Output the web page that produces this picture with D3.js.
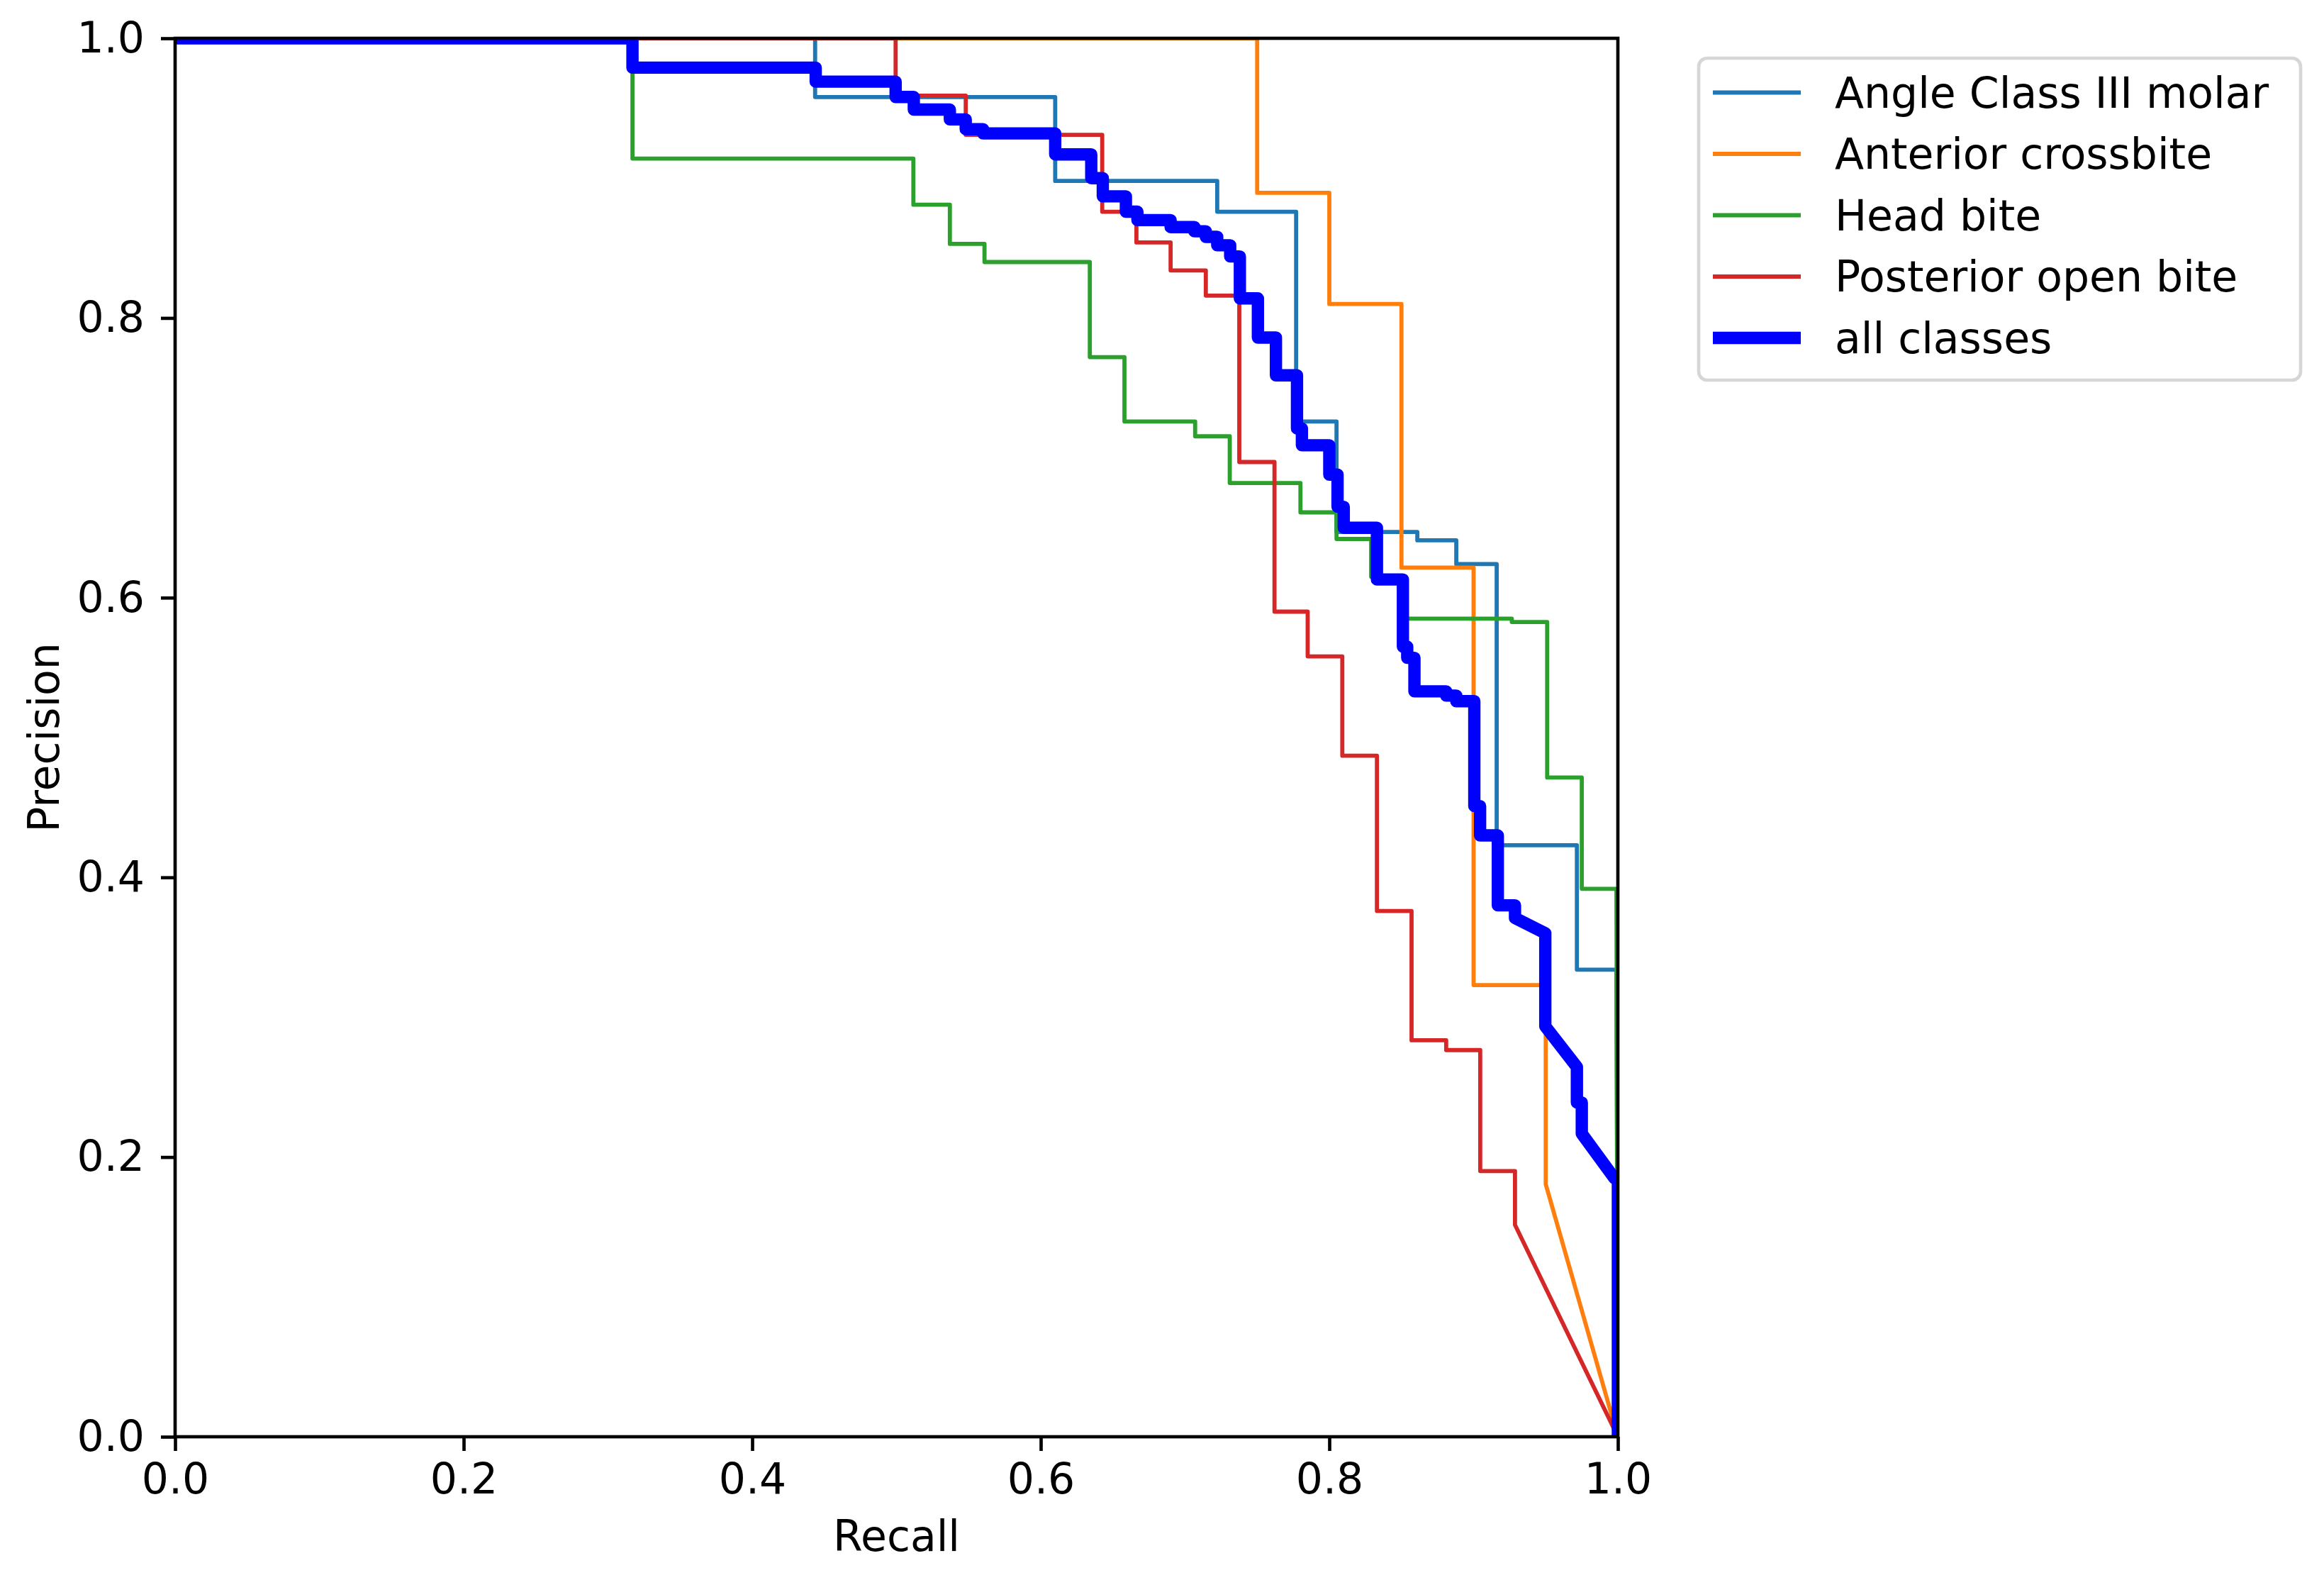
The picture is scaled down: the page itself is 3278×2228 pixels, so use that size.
<!DOCTYPE html>
<html>
<head>
<meta charset="utf-8">
<script src="https://cdn.jsdelivr.net/npm/d3@7/dist/d3.min.js"></script>
<style>
  html, body { margin: 0; padding: 0; background: #ffffff; }
  svg { display: block; }
  text { font-family: "DejaVu Sans", "Liberation Sans", sans-serif; fill: #000; }
</style>
</head>
<body>
<svg id="chart" width="3278" height="2228"></svg>
<script>
// ---- data (recall, precision vertices) ----
const classNames = ["Angle Class III molar", "Anterior crossbite", "Head bite", "Posterior open bite", "all classes"];
const seriesColors = ["#1f77b4", "#ff7f0e", "#2ca02c", "#d62728", "#0000ff"];

const angleClassIII = [[0,1],[0.4436,1],[0.4436,0.958],[0.610,0.958],[0.610,0.898],[0.7223,0.898],[0.7223,0.876],[0.777,0.876],[0.777,0.726],[0.805,0.726],[0.805,0.647],[0.861,0.647],[0.861,0.641],[0.888,0.641],[0.888,0.624],[0.916,0.624],[0.916,0.423],[0.9716,0.423],[0.9716,0.334],[0.999,0.334],[1.0,0]];

const anteriorCrossbite = [[0,1],[0.750,1],[0.750,0.8895],[0.800,0.8895],[0.800,0.810],[0.850,0.810],[0.850,0.6215],[0.900,0.6215],[0.900,0.323],[0.950,0.323],[0.950,0.1806],[1.0,0]];

const headBite = [[0,1],[0.317,1],[0.317,0.914],[0.5117,0.914],[0.5117,0.881],[0.537,0.881],[0.537,0.853],[0.561,0.853],[0.561,0.840],[0.634,0.840],[0.634,0.772],[0.658,0.772],[0.658,0.726],[0.707,0.726],[0.707,0.7154],[0.731,0.7154],[0.731,0.682],[0.780,0.682],[0.780,0.661],[0.805,0.661],[0.805,0.642],[0.829,0.642],[0.829,0.615],[0.853,0.615],[0.853,0.585],[0.9265,0.585],[0.9265,0.5826],[0.951,0.5826],[0.951,0.4714],[0.975,0.4714],[0.975,0.3918],[0.999,0.3918],[1.0,0]];

const posteriorOpenBite = [[0,1],[0.4994,1],[0.4994,0.959],[0.548,0.959],[0.548,0.931],[0.6426,0.931],[0.6426,0.876],[0.6663,0.876],[0.6663,0.854],[0.690,0.854],[0.690,0.834],[0.7144,0.834],[0.7144,0.816],[0.7376,0.816],[0.7376,0.697],[0.762,0.697],[0.762,0.590],[0.785,0.590],[0.785,0.558],[0.809,0.558],[0.809,0.487],[0.833,0.487],[0.833,0.376],[0.857,0.376],[0.857,0.2835],[0.881,0.2835],[0.881,0.2765],[0.9046,0.2765],[0.9046,0.190],[0.9287,0.190],[0.9287,0.1515],[1.0,0.0]];

const allClasses = [[0,1],[0.317,1],[0.317,0.979],[0.444,0.979],[0.444,0.969],[0.4994,0.969],[0.4994,0.958],[0.512,0.958],[0.512,0.949],[0.537,0.949],[0.537,0.942],[0.548,0.942],[0.548,0.935],[0.560,0.935],[0.560,0.932],[0.610,0.932],[0.610,0.917],[0.635,0.917],[0.635,0.900],[0.643,0.900],[0.643,0.887],[0.659,0.887],[0.659,0.876],[0.667,0.876],[0.667,0.870],[0.690,0.870],[0.690,0.865],[0.7065,0.865],[0.7065,0.862],[0.7144,0.862],[0.7144,0.858],[0.7223,0.858],[0.7223,0.852],[0.7313,0.852],[0.7313,0.844],[0.738,0.844],[0.738,0.814],[0.7505,0.814],[0.7505,0.786],[0.763,0.786],[0.763,0.759],[0.7776,0.759],[0.7776,0.721],[0.781,0.721],[0.781,0.709],[0.800,0.709],[0.800,0.688],[0.8057,0.688],[0.8057,0.665],[0.810,0.665],[0.810,0.650],[0.833,0.650],[0.833,0.613],[0.851,0.613],[0.851,0.565],[0.854,0.565],[0.854,0.557],[0.859,0.557],[0.859,0.533],[0.881,0.533],[0.881,0.530],[0.888,0.530],[0.888,0.526],[0.9005,0.526],[0.9005,0.451],[0.9045,0.451],[0.9045,0.430],[0.9168,0.430],[0.9168,0.380],[0.9287,0.380],[0.9287,0.371],[0.9497,0.360],[0.9497,0.2935],[0.9716,0.2644],[0.9716,0.239],[0.975,0.239],[0.975,0.2167],[0.9975,0.185],[1.0,0.183],[1.0,0]];

const xTicks = [0, 0.2, 0.4, 0.6, 0.8, 1.0];
const yTicks = [0, 0.2, 0.4, 0.6, 0.8, 1.0];
const xLabel = "Recall";
const yLabel = "Precision";

// ---- layout ----
const PT = 5.8;
const FS = 60;
const M = { left: 247, top: 54, width: 2035, height: 1972 };

const svg = d3.select("#chart");
const x = d3.scaleLinear().domain([0, 1]).range([M.left, M.left + M.width]);
const y = d3.scaleLinear().domain([0, 1]).range([M.top + M.height, M.top]);

svg.append("defs").append("clipPath").attr("id", "plotclip")
  .append("rect").attr("x", M.left).attr("y", M.top).attr("width", M.width).attr("height", M.height);

const line = d3.line().x(d => x(d[0])).y(d => y(d[1]));
const seriesData = [angleClassIII, anteriorCrossbite, headBite, posteriorOpenBite, allClasses];
const widths = [1, 1, 1, 1, 3];

const gLines = svg.append("g").attr("clip-path", "url(#plotclip)");
seriesData.forEach((data, i) => {
  gLines.append("path")
    .attr("d", line(data))
    .attr("fill", "none")
    .attr("stroke", seriesColors[i])
    .attr("stroke-width", widths[i] * PT)
    .attr("stroke-linejoin", "round")
    .attr("stroke-linecap", "butt");
});

// ---- axes ----
const xAxis = d3.axisBottom(x).tickValues(xTicks).tickFormat(d3.format(".1f")).tickSize(20).tickSizeOuter(0).tickPadding(17);
const yAxis = d3.axisLeft(y).tickValues(yTicks).tickFormat(d3.format(".1f")).tickSize(20).tickSizeOuter(0).tickPadding(23);

const gx = svg.append("g").attr("transform", `translate(0,${M.top + M.height})`).call(xAxis);
const gy = svg.append("g").attr("transform", `translate(${M.left},0)`).call(yAxis);
[gx, gy].forEach(g => {
  g.select(".domain").remove();
  g.selectAll(".tick line").attr("stroke", "#000").attr("stroke-width", 0.8 * PT);
  g.selectAll(".tick text").attr("font-size", FS).attr("font-family", "DejaVu Sans").attr("fill", "#000");
});

svg.append("rect")
  .attr("x", M.left).attr("y", M.top).attr("width", M.width).attr("height", M.height)
  .attr("fill", "none").attr("stroke", "#000").attr("stroke-width", 0.8 * PT);

svg.append("text").attr("x", M.left + M.width / 2).attr("y", 2187)
  .attr("text-anchor", "middle").attr("font-size", FS).text(xLabel);
svg.append("text").attr("transform", `translate(83,${M.top + M.height / 2}) rotate(-90)`)
  .attr("text-anchor", "middle").attr("font-size", FS).text(yLabel);

// ---- legend ----
const L = { x: 2396, y: 82, w: 849, h: 454, row0: 130.5, rowStep: 86.5, hx0: 2416, hx1: 2540, tx: 2588 };
const gLeg = svg.append("g");
gLeg.append("rect").attr("x", L.x).attr("y", L.y).attr("width", L.w).attr("height", L.h)
  .attr("rx", 12).attr("ry", 12)
  .attr("fill", "#fff").attr("fill-opacity", 0.8)
  .attr("stroke", "#d6d6d6").attr("stroke-width", 0.8 * PT);
classNames.forEach((name, i) => {
  const yy = L.row0 + i * L.rowStep;
  gLeg.append("line").attr("x1", L.hx0).attr("x2", L.hx1).attr("y1", yy).attr("y2", yy)
    .attr("stroke", seriesColors[i]).attr("stroke-width", widths[i] * PT);
  gLeg.append("text").attr("x", L.tx).attr("y", yy + 21).attr("font-size", FS).text(name);
});
</script>
</body>
</html>
